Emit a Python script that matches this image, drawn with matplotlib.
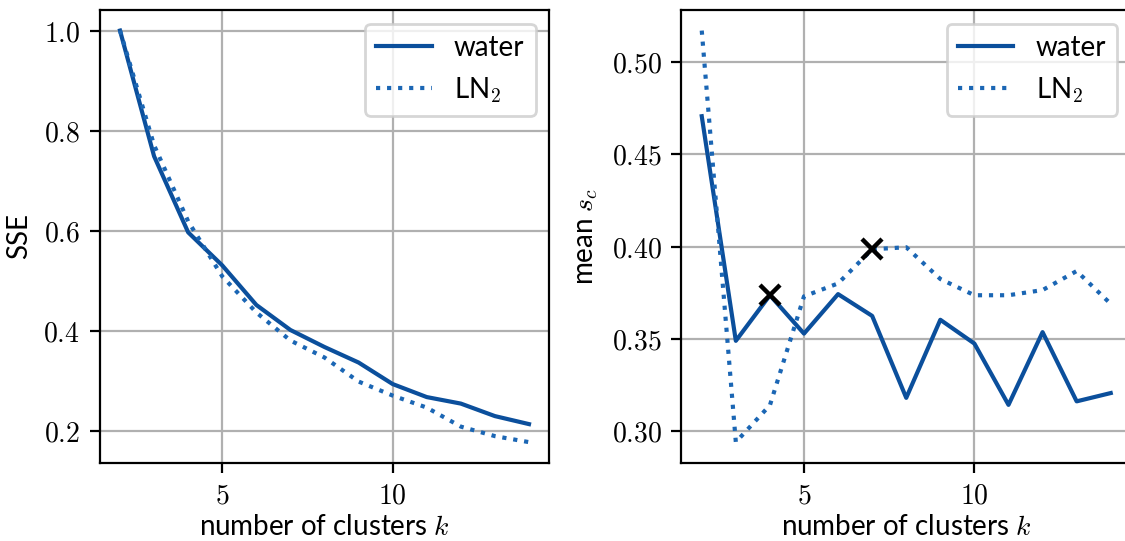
import numpy as np
import matplotlib
matplotlib.use("Agg")
import matplotlib.pyplot as plt
from matplotlib.ticker import FuncFormatter

# cluster counts and scores
k = np.arange(2, 15)

sse_water = [1.0, 0.749, 0.597, 0.531, 0.452, 0.402, 0.368, 0.337, 0.294, 0.268, 0.255, 0.230, 0.214]
sse_ln2 = [1.0, 0.771, 0.619, 0.509, 0.437, 0.381, 0.347, 0.299, 0.271, 0.247, 0.209, 0.190, 0.178]

sil_water = [0.4706, 0.3489, 0.3736, 0.3528, 0.3742, 0.3624, 0.3180, 0.3603, 0.3474, 0.3142, 0.3536, 0.3161, 0.3206]
sil_ln2 = [0.517, 0.294, 0.314, 0.373, 0.380, 0.3985, 0.3996, 0.3824, 0.3736, 0.3736, 0.3764, 0.3867, 0.3689]

# chosen k for each medium
best_water = 4
best_ln2 = 7

WATER_C = "#0b4f9c"
LN2_C = "#1b66b4"

plt.rcParams["font.family"] = ["Lato", "DejaVu Sans"]
plt.rcParams["mathtext.fontset"] = "cm"
plt.rcParams["font.size"] = 10


def main() -> int:
    fig = plt.figure(figsize=(5.625, 2.705), dpi=200)
    ax1 = fig.add_axes([0.0885, 0.1447, 0.3999, 0.8368])
    ax2 = fig.add_axes([0.6056, 0.1447, 0.3999, 0.8368])

    def tex(fmt):
        return FuncFormatter(lambda v, p: "$" + fmt.format(v) + "$")

    ax1.plot(k, sse_water, color=WATER_C, lw=1.5, label="water")
    ax1.plot(k, sse_ln2, color=LN2_C, lw=1.5, ls=":", label="LN$_2$")
    ax1.set_ylabel("SSE")
    ax1.yaxis.set_major_formatter(tex("{:.1f}"))

    ax2.plot(k, sil_water, color=WATER_C, lw=1.5, label="water")
    ax2.plot(k, sil_ln2, color=LN2_C, lw=1.5, ls=":", label="LN$_2$")
    ax2.plot(best_water, sil_water[best_water - 2], "x", color="black", ms=7, mew=1.6)
    ax2.plot(best_ln2, sil_ln2[best_ln2 - 2], "x", color="black", ms=7, mew=1.6)
    ax2.set_ylabel("mean $s_c$")
    ax2.set_yticks([0.30, 0.35, 0.40, 0.45, 0.50])
    ax2.yaxis.set_major_formatter(tex("{:.2f}"))

    for ax in (ax1, ax2):
        ax.set_xticks([5, 10])
        ax.xaxis.set_major_formatter(tex("{:.0f}"))
        ax.set_xlabel("number of clusters $k$", labelpad=2)
        ax.grid(True, color="#b0b0b0", lw=0.8)
        ax.set_axisbelow(True)
        ax.legend(loc="upper right")

    fig.savefig("out.png", dpi=200)
    return 0


if (__name__ == "__main__"):
    exit(main())
